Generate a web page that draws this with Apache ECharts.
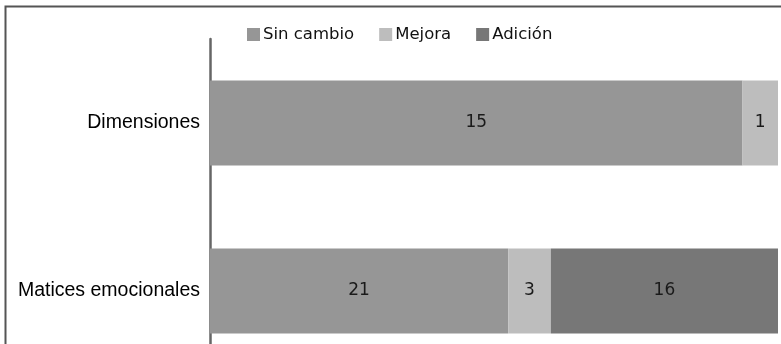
<!DOCTYPE html>
<html>
<head>
<meta charset="utf-8">
<style>
  html, body { margin: 0; padding: 0; background: #ffffff; }
  #chart { width: 781px; height: 344px; }
</style>
<script src="https://cdn.jsdelivr.net/npm/echarts@6/dist/echarts.min.js"></script>
</head>
<body>
<div id="chart"></div>
<script>
// Categories and counts per type of change
const categories = ['Dimensiones', 'Matices emocionales'];
const sinCambio = [15, 21];
const mejora = [1, 3];
const adicion = [0, 16];

const seriesNames = ['Sin cambio', 'Mejora', 'Adición'];
const seriesColors = ['#969696', '#bdbdbd', '#777777'];
const seriesValues = [sinCambio, mejora, adicion];

// Totals per category, used to stack each bar to 100 %
const totals = categories.map((_, i) => sinCambio[i] + mejora[i] + adicion[i]);

const chart = echarts.init(document.getElementById('chart'));

const series = seriesValues.map((vals, s) => ({
  name: seriesNames[s],
  type: 'bar',
  stack: 'total',
  barWidth: 85,
  itemStyle: { color: seriesColors[s] },
  data: vals.map((v, i) => ({ value: v / totals[i] * 100, raw: v })),
  label: {
    show: true,
    position: 'inside',
    fontFamily: 'DejaVu Sans',
    fontSize: 17,
    color: '#1a1a1a',
    formatter: p => (p.data.raw ? String(p.data.raw) : '')
  }
}));

chart.setOption({
  animation: false,
  graphic: [{
    type: 'rect',
    shape: { x: 5.5, y: 6.5, width: 900, height: 500 },
    style: { fill: 'none', stroke: '#555555', lineWidth: 2 },
    silent: true
  }],
  legend: {
    top: 21,
    left: 242,
    itemWidth: 13,
    itemHeight: 13,
    itemGap: 25,
    icon: 'rect',
    textStyle: { fontFamily: 'DejaVu Sans', fontSize: 16.5, color: '#111111', padding: [0, 0, 0, -2] },
    data: seriesNames
  },
  grid: { left: 210, right: 3, top: 39, height: 336, outerBoundsMode: 'none', containLabel: false },
  xAxis: {
    type: 'value',
    min: 0,
    max: 100,
    show: false
  },
  yAxis: {
    type: 'category',
    inverse: true,
    data: categories,
    axisLine: { show: true, lineStyle: { color: '#666666', width: 2.5 } },
    axisTick: { show: false },
    axisLabel: { fontFamily: 'Liberation Sans', fontSize: 19.5, color: '#000000', margin: 10 }
  },
  series: series
});
</script>
</body>
</html>
